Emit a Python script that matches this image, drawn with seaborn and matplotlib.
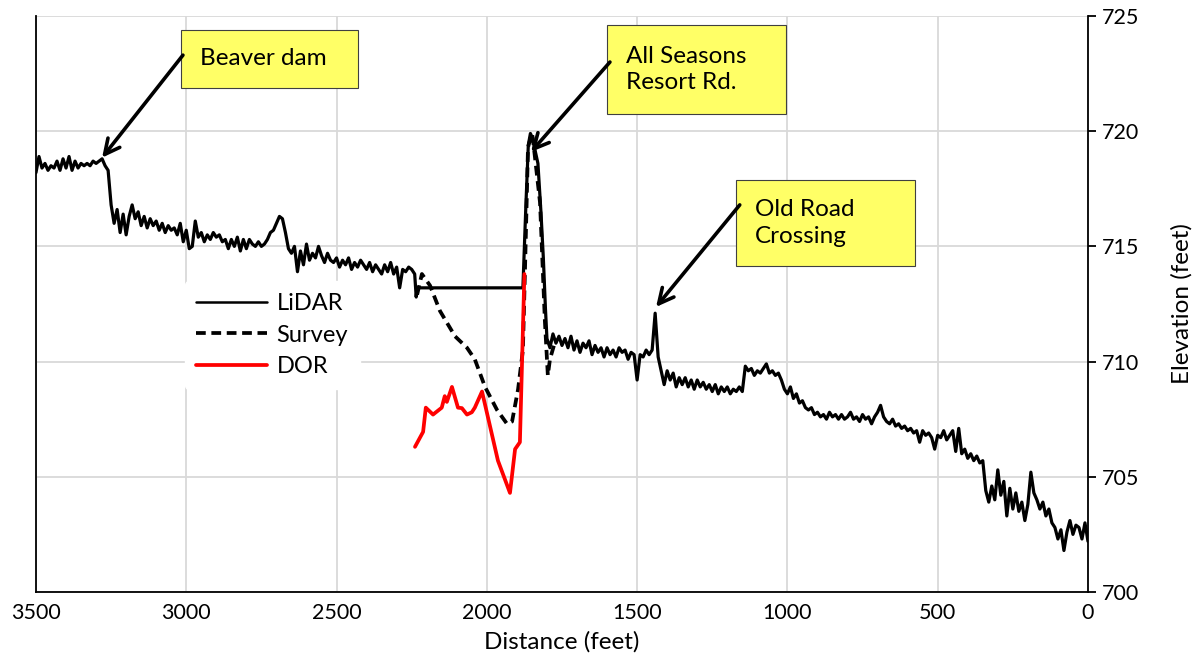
import numpy as np
import pandas as pd
import matplotlib.pyplot as plt
import seaborn as sns

# LiDAR profile, upstream part (10 ft stations from 3500 to 2240)
lidar_up_dist = np.arange(3500, 2230, -10)
lidar_up_elev = [
    718.2, 718.9, 718.4, 718.6, 718.3, 718.5, 718.4, 718.7, 718.3, 718.8,
    718.4, 718.9, 718.3, 718.7, 718.4, 718.6, 718.5, 718.6, 718.5, 718.7,
    718.6, 718.7, 718.8, 718.5, 718.3, 716.8, 716.0, 716.6, 715.6, 716.4,
    715.5, 716.3, 716.8, 716.2, 716.5, 715.9, 716.3, 715.8, 716.2, 715.9,
    716.1, 715.7, 716.0, 715.6, 715.9, 715.7, 715.8, 715.5, 716.0, 715.2,
    715.7, 714.9, 715.0, 716.1, 715.4, 715.6, 715.2, 715.5, 715.3, 715.6,
    715.4, 715.5, 715.2, 715.3, 714.9, 715.3, 715.0, 715.4, 714.8, 715.3,
    714.9, 715.3, 715.1, 715.0, 715.2, 715.0, 715.1, 715.3, 715.6, 715.7,
    716.0, 716.3, 716.2, 715.6, 714.9, 714.7, 715.0, 713.9, 714.8, 714.2,
    715.1, 714.4, 714.7, 714.5, 715.0, 714.6, 714.3, 714.7, 714.4, 714.3,
    714.5, 714.1, 714.4, 714.2, 714.5, 714.0, 714.3, 714.1, 714.4, 714.2,
    714.0, 714.3, 713.9, 714.2, 714.0, 713.8, 714.2, 713.9, 714.3, 713.8,
    714.1, 713.2, 714.0, 713.9, 714.1, 714.0, 713.8,
]

# LiDAR across the pond and the road embankment
lidar_mid_dist = [2235, 2232, 1880, 1870, 1862, 1855, 1848, 1840, 1830,
                  1820, 1812, 1805, 1800]
lidar_mid_elev = [712.8, 713.2, 713.2, 716.8, 719.4, 719.9, 719.7, 719.2,
                  718.6, 716.5, 714.5, 712.3, 711.0]

# LiDAR profile, downstream part (10 ft stations from 1790 to 0)
lidar_dn_dist = np.arange(1790, -10, -10)
lidar_dn_elev = [
    710.6, 711.2, 710.8, 711.1, 710.7, 711.0, 710.6, 711.1, 710.5, 710.9,
    710.4, 710.8, 710.6, 710.9, 710.3, 710.7, 710.4, 710.6, 710.2, 710.6,
    710.3, 710.5, 710.2, 710.6, 710.4, 710.5, 710.1, 710.4, 710.3, 709.2,
    710.3, 710.2, 710.5, 710.3, 710.5, 712.1, 710.2, 709.6, 709.0, 709.6,
    709.2, 709.5, 708.9, 709.3, 709.0, 709.3, 708.9, 709.2, 708.8, 709.2,
    708.9, 709.1, 708.8, 709.0, 708.7, 709.0, 708.6, 708.9, 708.7, 708.9,
    708.6, 708.8, 708.7, 708.9, 708.7, 709.8, 709.6, 709.7, 709.4, 709.6,
    709.5, 709.7, 709.9, 709.5, 709.6, 709.4, 709.5, 709.2, 708.8, 708.6,
    708.9, 708.4, 708.6, 708.2, 708.3, 708.0, 707.9, 708.0, 707.7, 707.8,
    707.6, 707.7, 707.5, 707.8, 707.6, 707.7, 707.5, 707.7, 707.5, 707.6,
    707.8, 707.5, 707.6, 707.4, 707.7, 707.5, 707.6, 707.3, 707.6, 707.8,
    708.1, 707.6, 707.4, 707.3, 707.5, 707.2, 707.3, 707.1, 707.2, 707.0,
    707.1, 706.9, 707.0, 706.5, 707.0, 706.8, 706.9, 706.7, 706.2, 706.8,
    706.7, 707.0, 706.6, 706.8, 707.0, 706.1, 707.1, 706.0, 706.2, 705.8,
    706.0, 705.7, 705.9, 705.6, 705.7, 704.4, 703.9, 704.6, 704.0, 705.3,
    704.2, 704.8, 703.3, 704.5, 703.6, 704.3, 703.5, 703.9, 703.1, 703.8,
    705.2, 704.3, 704.0, 703.6, 703.9, 703.3, 703.6, 703.0, 702.8, 702.3,
    702.7, 701.8, 702.6, 703.1, 702.5, 702.9, 702.8, 702.3, 703.0, 702.2,
]

# Survey profile
survey_dist = [2232, 2216, 2189, 2156, 2106, 2066, 2040, 2006, 1966, 1933,
               1916, 1896, 1880, 1873, 1863, 1850, 1847, 1823, 1807, 1797,
               1790, 1770]
survey_elev = [712.9, 713.8, 713.3, 712.2, 711.1, 710.6, 710.1, 708.9, 707.9,
               707.3, 707.4, 708.8, 710.5, 714.0, 719.3, 719.9, 719.7, 716.9,
               711.8, 709.4, 710.1, 711.0]

# DOR profile
dor_dist = [2239, 2212, 2203, 2179, 2150, 2140, 2133, 2116, 2096, 2083,
            2066, 2050, 2040, 2016, 1963, 1923, 1906, 1890, 1875]
dor_elev = [706.3, 706.95, 708.0, 707.7, 708.0, 708.5, 708.25, 708.9, 708.0,
            707.98, 707.7, 707.8, 708.0, 708.7, 705.7, 704.3, 706.2, 706.5,
            713.8]

lidar = pd.DataFrame({
    "dist": np.concatenate([lidar_up_dist, lidar_mid_dist, lidar_dn_dist]),
    "elev": np.concatenate([lidar_up_elev, lidar_mid_elev, lidar_dn_elev]),
})
survey = pd.DataFrame({"dist": survey_dist, "elev": survey_elev})
dor = pd.DataFrame({"dist": dor_dist, "elev": dor_elev})

sns.set_theme(style="whitegrid")
plt.rcParams["font.family"] = ["Lato", "DejaVu Sans"]
plt.rcParams["text.color"] = "black"
plt.rcParams["axes.labelcolor"] = "black"

fig = plt.figure(figsize=(11.99, 6.68), dpi=100)
ax = fig.add_axes([0.030, 0.1138, 0.8774, 0.8623])

sns.lineplot(data=lidar, x="dist", y="elev", ax=ax, color="black", lw=2.3,
             sort=False, estimator=None, label="LiDAR")
sns.lineplot(data=survey, x="dist", y="elev", ax=ax, color="black", lw=2.7,
             ls=(0, (2.6, 1.5)), sort=False, estimator=None, label="Survey")
sns.lineplot(data=dor, x="dist", y="elev", ax=ax, color="#ff0000", lw=2.7,
             sort=False, estimator=None, label="DOR")

ax.set_xlim(3500, 0)
ax.set_ylim(700, 725)
ax.set_xticks(range(0, 3501, 500))
ax.set_yticks(range(700, 726, 5))
ax.yaxis.tick_right()
ax.yaxis.set_label_position("right")
ax.set_facecolor("white")
ax.grid(True, color="#d9d9d9", lw=1.3)

for side in ["left", "right", "bottom"]:
    ax.spines[side].set_color("black")
    ax.spines[side].set_linewidth(1.3)
ax.spines["top"].set_visible(False)
ax.tick_params(axis="both", direction="out", length=6, width=1.3,
               color="black", labelsize=15.5, labelcolor="black")
ax.tick_params(axis="x", pad=2)
ax.tick_params(axis="y", pad=4)

ax.set_xlabel("Distance (feet)", fontsize=17.5, labelpad=6)
ax.set_ylabel("Elevation (feet)", fontsize=17.5, labelpad=23)

leg = ax.legend(loc="upper left", bbox_to_anchor=(0.13, 0.56), frameon=True,
                fontsize=17, handlelength=3.0, handletextpad=0.4,
                labelspacing=0.45, borderpad=0.5)
leg.get_frame().set_facecolor("white")
leg.get_frame().set_edgecolor("white")
leg.get_frame().set_alpha(1)
leg.get_lines()[0].set_linewidth(1.8)

# callout boxes: (text, box corners in axes fraction, arrow tail, arrow head)
callouts = [
    ("Beaver dam", (0.1378, 0.875, 0.1683, 0.1007), (0.1397, 0.932), (3280, 718.85)),
    ("All Seasons\nResort Rd.", (0.5428, 0.8299, 0.1701, 0.1545), (0.5456, 0.920), (1853, 719.1)),
    ("Old Road\nCrossing", (0.6654, 0.566, 0.1702, 0.1493), (0.669, 0.672), (1437, 712.37)),
]
for text, (bx, by, bw, bh), tail, head in callouts:
    ax.add_patch(plt.Rectangle((bx, by), bw, bh, transform=ax.transAxes,
                               facecolor="#ffff66", edgecolor="#404040",
                               lw=0.8, zorder=5))
    ax.text(bx + 0.018, by + bh / 2, text, transform=ax.transAxes,
            ha="left", va="center", fontsize=17.5, linespacing=1.3, zorder=6)
    ax.annotate("", xy=head, xycoords="data", xytext=tail,
                textcoords="axes fraction", zorder=6,
                arrowprops=dict(arrowstyle="->,head_length=0.9,head_width=0.45",
                                color="black", lw=2.6, shrinkA=0, shrinkB=0))

fig.savefig("out.png", dpi=100)
